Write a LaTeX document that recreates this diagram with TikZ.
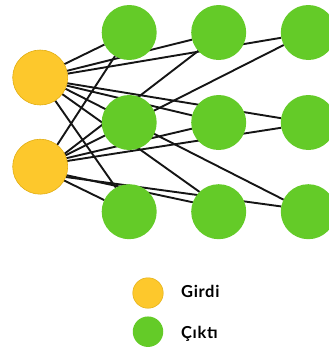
\documentclass[tikz,border=0pt]{standalone}
\usepackage{fontspec}
\setmainfont{Lato}
\usetikzlibrary{backgrounds}
\definecolor{inyellow}{HTML}{FDC82C}
\definecolor{inrim}{HTML}{E2AE12}
\definecolor{outgreen}{HTML}{64CB28}
\definecolor{wire}{HTML}{151515}
\tikzset{
  unit/.style={circle, inner sep=0pt, outer sep=0pt, minimum size=55pt},
  inunit/.style={unit, fill=inyellow, draw=inrim, line width=0.6pt},
  outunit/.style={unit, fill=outgreen},
  keydot/.style={circle, inner sep=0pt, outer sep=0pt, minimum size=30.5pt},
  keytext/.style={anchor=base west, inner sep=0pt,
    font=\fontsize{16.5}{18}\selectfont\bfseries\addfontfeature{LetterSpace=4}},
  link/.style={draw=wire, line width=1.9pt}
}
\begin{document}
\begin{tikzpicture}[x=1pt, y=-1pt]
\useasboundingbox (0,0) rectangle (329,349);
\clip (0,0) rectangle (329,349);

% input layer
\node[inunit] (i1) at (40.2,77.5) {};
\node[inunit] (i2) at (40.2,166.7) {};

% hidden and output layers
\node[outunit] (a1) at (129.2,32.5) {};
\node[outunit] (a2) at (129.2,122.5) {};
\node[outunit] (a3) at (129.2,211.7) {};
\node[outunit] (b1) at (218.7,32.5) {};
\node[outunit] (b2) at (218.7,122.5) {};
\node[outunit] (b3) at (218.7,211.7) {};
\node[outunit] (c1) at (308.3,32.5) {};
\node[outunit] (c2) at (308.3,122.5) {};
\node[outunit] (c3) at (308.3,211.7) {};

% connections, kept behind the units
\begin{scope}[on background layer]
  \draw[link] (i1.29)  -- (a1.206);
  \draw[link] (i1.14)  -- (b1.195);
  \draw[link] (i1.8)   -- (c1.191);
  \draw[link] (i1.-12) -- (c2.171);
  \draw[link] (i1.-17) -- (b2.165);
  \draw[link] (i1.-24) -- (c3.154);
  \draw[link] (i1.-37) -- (b3.134);
  \draw[link] (i1.-57) -- (a3.119);
  \draw[link] (i2.52)  -- (a1.239);
  \draw[link] (i2.28)  -- (b1.222);
  \draw[link] (i2.24)  -- (c1.207);
  \draw[link] (i2.18)  -- (b2.193);
  \draw[link] (i2.12)  -- (c2.191);
  \draw[link] (i2.-18) -- (b3.160);
  \draw[link] (i2.-22) -- (c3.169);
  \draw[link] (i2.-30) -- (a3.155);
\end{scope}

% key
\node[keydot, fill=inyellow, draw=inrim, line width=0.5pt] (k1) at (148,293) {};
\node[keydot, fill=outgreen] (k2) at (148,331.7) {};
\node[keytext] (t1) at (181,297.6) {Girdi};
\node[keytext] (t2) at (181,338) {Çıktı};
\end{tikzpicture}
\end{document}
